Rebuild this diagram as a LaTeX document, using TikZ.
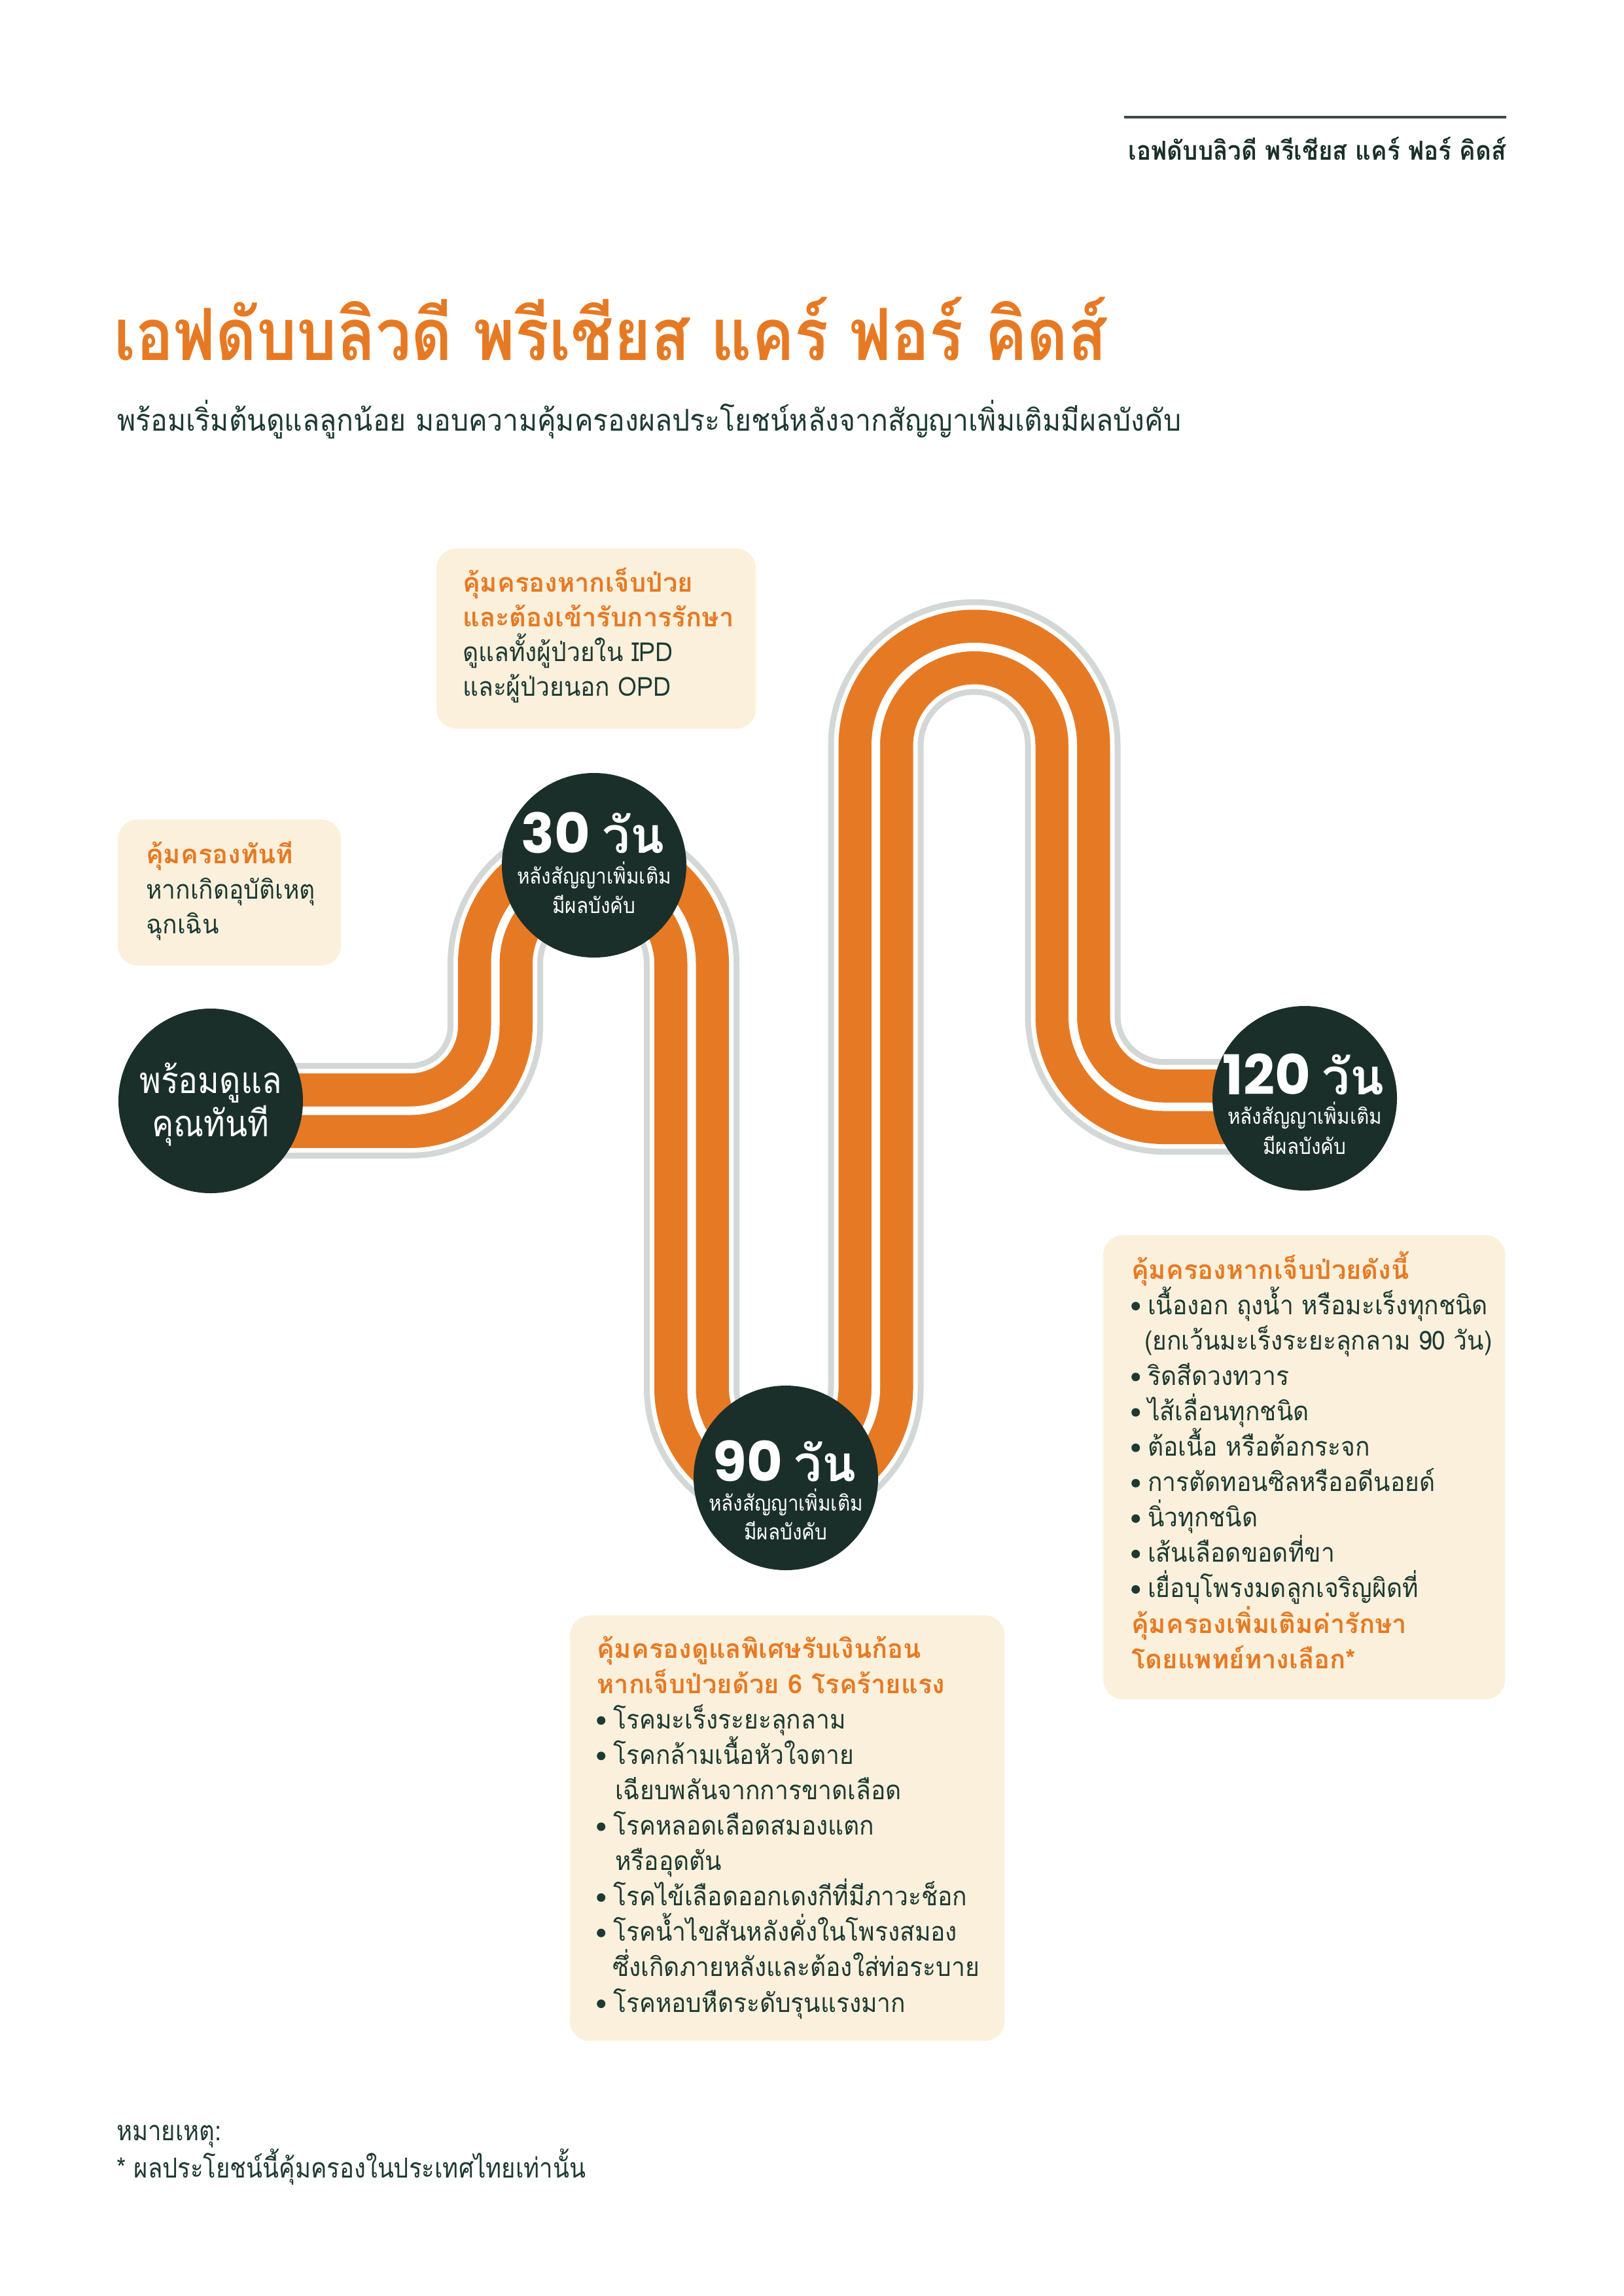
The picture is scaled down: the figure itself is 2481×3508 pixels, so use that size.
\documentclass[tikz,border=0pt]{standalone}
\usepackage{fontspec}
\newfontfamily\thaifont[Script=Thai]{Loma}
\newfontfamily\thaibody[Script=Thai,FakeStretch=0.93]{Loma}
\newfontfamily\thaititle[Script=Thai,FakeStretch=0.88]{Loma}
\newfontfamily\thaisub[Script=Thai,FakeStretch=0.93]{Loma}
\newfontfamily\thaihead[Script=Thai,FakeStretch=0.92]{Loma}
\newfontfamily\thaicirc[Script=Thai,FakeStretch=0.89]{Loma}
\newfontfamily\thaismall[Script=Thai,FakeStretch=0.9]{Loma}
\newfontfamily\thaifoot[Script=Thai,FakeStretch=0.87]{Loma}
\newfontfamily\popfont{Poppins}
\pgfdeclarelayer{background}
\pgfsetlayers{background,main}
\definecolor{orng}{HTML}{E67A24}
\definecolor{dkgreen}{HTML}{1A2F29}
\definecolor{txt}{HTML}{1D3A33}
\definecolor{trackgray}{HTML}{D3D7D6}
\definecolor{cream}{HTML}{FBF0DB}
\definecolor{rulecol}{HTML}{3D4A46}
\tikzset{
  box/.style={fill=cream, rounded corners=30pt, inner sep=0pt, anchor=north west},
  circ/.style={circle, fill=dkgreen, minimum size=282pt, inner sep=0pt},
  ln/.style={anchor=base west, inner sep=0pt, text=txt, font=\thaibody\fontsize{40}{48}\selectfont},
  hl/.style={anchor=base west, inner sep=0pt, text=orng, font=\thaifont\bfseries\fontsize{40}{48}\selectfont},
  big/.style={anchor=base, inner sep=0pt, text=white},
  sub/.style={anchor=base, inner sep=0pt, text=white, font=\thaismall\fontsize{33}{38}\selectfont},
  cond/.style={anchor=base west, inner sep=0pt, text=txt},
}
\newcommand\bul{\makebox[25pt][l]{\tikz[baseline=0pt]\fill[txt] (6.5pt,12.5pt) circle[radius=6.5pt];}}
\newcommand\bignum[1]{{\popfont\bfseries\fontsize{84}{88}\selectfont #1}}
\newcommand\bigthai[1]{{\thaifont\bfseries\fontsize{76}{80}\selectfont #1}}
\begin{document}
\begin{tikzpicture}[x=1pt,y=1pt]
\useasboundingbox (0,0) rectangle (2481,-3508);

% header
\coordinate (hl0) at (1718,-179);
\coordinate (hl1) at (2302,-179);
\draw[rulecol, line width=3.5pt] (hl0) -- (hl1);
\node[anchor=base east, inner sep=0pt, text=dkgreen, font=\thaihead\bfseries\fontsize{40}{44}\selectfont] (hdr) at (2302,-245) {เอฟดับบลิวดี พรีเชียส แคร์ ฟอร์ คิดส์};

% title
\node[anchor=base west, inner sep=0pt, text=orng, font=\thaititle\bfseries\fontsize{110}{116}\selectfont] (title) at (174,-550) {เอฟดับบลิวดี พรีเชียส แคร์ ฟอร์ คิดส์};
\node[cond, font=\thaisub\fontsize{46}{52}\selectfont] (subtitle) at (179,-658) {พร้อมเริ่มต้นดูแลลูกน้อย มอบความคุ้มครองผลประโยชน์หลังจากสัญญาเพิ่มเติมมีผลบังคับ};

% circles
\node[circ] (c0) at (322,-1682) {};
\node[circ] (c30) at (908,-1322) {};
\node[circ] (c90) at (1201,-2258) {};
\node[circ] (c120) at (1994,-1678) {};
\coordinate (s0) at (322,-1697);
\coordinate (s1) at (1994,-1691);

% track
\begin{pgfonlayer}{background}
\foreach \w/\col in {146/trackgray,128/white,114/orng,13/white}{
  \draw[line width=\w pt, color=\col] (s0) -- (627,-1697)
    arc[start angle=270, end angle=360, radius=130] -- (757,-1472)
    arc[start angle=180, end angle=0, radius=150] -- (1057,-2121)
    arc[start angle=180, end angle=360, radius=140.75] -- (1338.5,-1139)
    arc[start angle=180, end angle=0, radius=150.5] -- (1639.5,-1552)
    arc[start angle=180, end angle=270, radius=139] -- (s1);
}
\end{pgfonlayer}

% circle texts
\node[big, font=\thaicirc\fontsize{56}{60}\selectfont] (c0a) at (322,-1670) {พร้อมดูแล};
\node[big, font=\thaicirc\fontsize{56}{60}\selectfont] (c0b) at (322,-1736) {คุณทันที};

\node[big] (c30a) at (906,-1303) {\bignum{30}\hspace{18pt}\bigthai{วัน}};
\node[sub] (c30b) at (908,-1350) {หลังสัญญาเพิ่มเติม};
\node[sub] (c30c) at (908,-1395) {มีผลบังคับ};

\node[big] (c90a) at (1199,-2263) {\bignum{90}\hspace{18pt}\bigthai{วัน}};
\node[sub] (c90b) at (1201,-2308) {หลังสัญญาเพิ่มเติม};
\node[sub] (c90c) at (1201,-2352) {มีผลบังคับ};

\node[big] (c120a) at (1992,-1672) {\bignum{120}\hspace{18pt}\bigthai{วัน}};
\node[sub] (c120b) at (1994,-1717) {หลังสัญญาเพิ่มเติม};
\node[sub] (c120c) at (1994,-1763) {มีผลบังคับ};

% box A
\node[box, minimum width=488pt, minimum height=275pt] (boxA) at (667,-838) {};
\node[hl] (a1) at (707,-904) {คุ้มครองหากเจ็บป่วย};
\node[hl] (a2) at (707,-957) {และต้องเข้ารับการรักษา};
\node[ln] (a3) at (707,-1010.5) {ดูแลทั้งผู้ป่วยใน IPD};
\node[ln] (a4) at (707,-1063.5) {และผู้ป่วยนอก OPD};

% box B
\node[box, minimum width=341pt, minimum height=223pt] (boxB) at (180,-1252) {};
\node[hl] (b1) at (223,-1319) {คุ้มครองทันที};
\node[ln] (b2) at (223,-1373) {หากเกิดอุบัติเหตุ};
\node[ln] (b3) at (223,-1426) {ฉุกเฉิน};

% box C
\node[box, minimum width=614pt, minimum height=709pt] (boxC) at (1686,-1887) {};
\node[hl] (k1) at (1729,-1954) {คุ้มครองหากเจ็บป่วยดังนี้};
\node[ln] (k2) at (1729,-2008.1) {\bul เนื้องอก ถุงน้ำ หรือมะเร็งทุกชนิด};
\node[ln] (k3) at (1749,-2062.2) {(ยกเว้นมะเร็งระยะลุกลาม 90 วัน)};
\node[ln] (k4) at (1729,-2116.3) {\bul ริดสีดวงทวาร};
\node[ln] (k5) at (1729,-2170.4) {\bul ไส้เลื่อนทุกชนิด};
\node[ln] (k6) at (1729,-2224.5) {\bul ต้อเนื้อ หรือต้อกระจก};
\node[ln] (k7) at (1729,-2278.6) {\bul การตัดทอนซิลหรืออดีนอยด์};
\node[ln] (k8) at (1729,-2332.7) {\bul นิ่วทุกชนิด};
\node[ln] (k9) at (1729,-2386.8) {\bul เส้นเลือดขอดที่ขา};
\node[ln] (k10) at (1729,-2440.9) {\bul เยื่อบุโพรงมดลูกเจริญผิดที่};
\node[hl] (k11) at (1729,-2495) {คุ้มครองเพิ่มเติมค่ารักษา};
\node[hl] (k12) at (1729,-2549.1) {โดยแพทย์ทางเลือก*};

% box D
\node[box, minimum width=664pt, minimum height=650pt] (boxD) at (871,-2468) {};
\node[hl] (d1) at (912,-2533) {คุ้มครองดูแลพิเศษรับเงินก้อน};
\node[hl] (d2) at (912,-2587.1) {หากเจ็บป่วยด้วย 6 โรคร้ายแรง};
\node[ln] (d3) at (912,-2641.2) {\bul โรคมะเร็งระยะลุกลาม};
\node[ln] (d4) at (912,-2695.3) {\bul โรคกล้ามเนื้อหัวใจตาย};
\node[ln] (d5) at (940,-2749.4) {เฉียบพลันจากการขาดเลือด};
\node[ln] (d6) at (912,-2803.5) {\bul โรคหลอดเลือดสมองแตก};
\node[ln] (d7) at (940,-2857.6) {หรืออุดตัน};
\node[ln] (d8) at (912,-2911.7) {\bul โรคไข้เลือดออกเดงกีที่มีภาวะช็อก};
\node[ln] (d9) at (912,-2965.8) {\bul โรคน้ำไขสันหลังคั่งในโพรงสมอง};
\node[ln] (d10) at (936,-3019.9) {ซึ่งเกิดภายหลังและต้องใส่ท่อระบาย};
\node[ln] (d11) at (912,-3074) {\bul โรคหอบหืดระดับรุนแรงมาก};

% footer
\node[cond, font=\thaifoot\fontsize{42}{48}\selectfont] (f1) at (178,-3270) {หมายเหตุ:};
\node[cond, font=\thaifoot\fontsize{42}{48}\selectfont] (f2) at (178,-3327) {* ผลประโยชน์นี้คุ้มครองในประเทศไทยเท่านั้น};
\end{tikzpicture}
\end{document}
